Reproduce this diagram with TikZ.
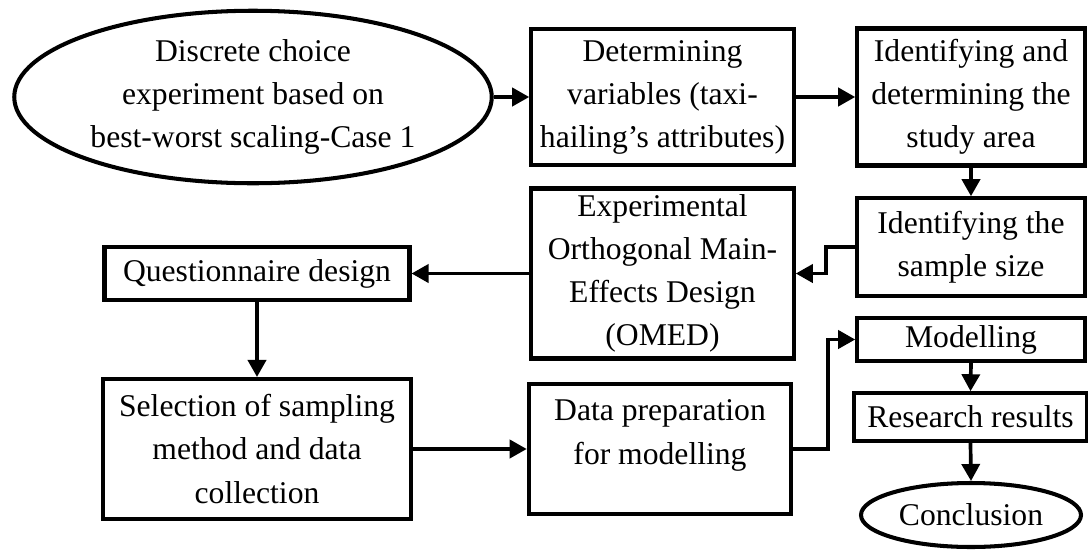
\documentclass[tikz,border=0pt]{standalone}
\usepackage{fontspec}
\setmainfont{Liberation Serif}
\usetikzlibrary{arrows.meta,positioning,shapes.geometric}
\tikzset{
  box/.style ={draw,line width=2.3pt,align=center,inner sep=2pt,
               font=\fontsize{18}{24.5}\selectfont},
  oval/.style={ellipse,draw,line width=2.3pt,align=center,inner sep=0pt,
               font=\fontsize{18}{24.5}\selectfont},
  ar/.style  ={-{Triangle[length=3.4mm,width=3.6mm]},line width=2.1pt},
}

\begin{document}
\begin{tikzpicture}
  \useasboundingbox (0,0) rectangle (21.76,-11.02);
  % top row
  \node[oval,minimum width=9.55cm,minimum height=3.45cm] (bws) at (5.06,-1.94)
       {Discrete choice\\experiment based on\\best-worst scaling-Case 1};
  \node[box,minimum width=5.25cm,minimum height=2.72cm] (vars) at (13.25,-1.94)
       {Determining\\variables (taxi-\\hailing's attributes)};
  \node[box,minimum width=4.55cm,minimum height=2.74cm] (area) at (19.42,-1.94)
       {Identifying and\\determining the\\study area};
  % middle row
  \node[box,minimum width=4.55cm,minimum height=1.95cm] (size) at (19.42,-4.94)
       {Identifying the\\sample size};
  \node[box,minimum width=5.25cm,minimum height=3.4cm] (omed) at (13.25,-5.47)
       {Experimental\\Orthogonal Main-\\Effects Design\\(OMED)};
  \node[box,minimum width=6.1cm,minimum height=1.05cm] (quest) at (5.14,-5.47)
       {Questionnaire design};
  % bottom row
  \node[box,minimum width=6.15cm,minimum height=2.8cm] (select) at (5.14,-8.98)
       {Selection of sampling\\method and data\\collection};
  \node[box,minimum width=5.25cm,minimum height=2.6cm,text depth=0.68cm] (prep) at (13.2,-8.98)
       {Data preparation\\for modelling};
  \node[box,minimum width=4.55cm,minimum height=0.86cm] (model) at (19.42,-6.79)
       {Modelling};
  \node[box,minimum width=4.65cm,minimum height=0.95cm] (res) at (19.41,-8.34)
       {Research results};
  \node[oval,minimum width=4.4cm,minimum height=1.28cm] (concl) at (19.42,-10.3)
       {Conclusion};

  \draw[ar] (bws.east) -- (vars.west);
  \draw[ar] (vars.east) -- (area.west);
  \draw[ar] (area.south) -- (size.north);
  \draw[ar] (size.west) -- ++(-0.58,0) |- (omed.east);
  \draw[ar] (omed.west) -- (quest.east);
  \draw[ar] (quest.south) -- (select.north);
  \draw[ar] (select.east) -- (prep.west);
  \draw[ar] (prep.east) -- ++(0.69,0) |- (model.west);
  \draw[ar] (model.south) -- (res.north);
  \draw[ar] (res.south) -- (concl.north);
\end{tikzpicture}
\end{document}
